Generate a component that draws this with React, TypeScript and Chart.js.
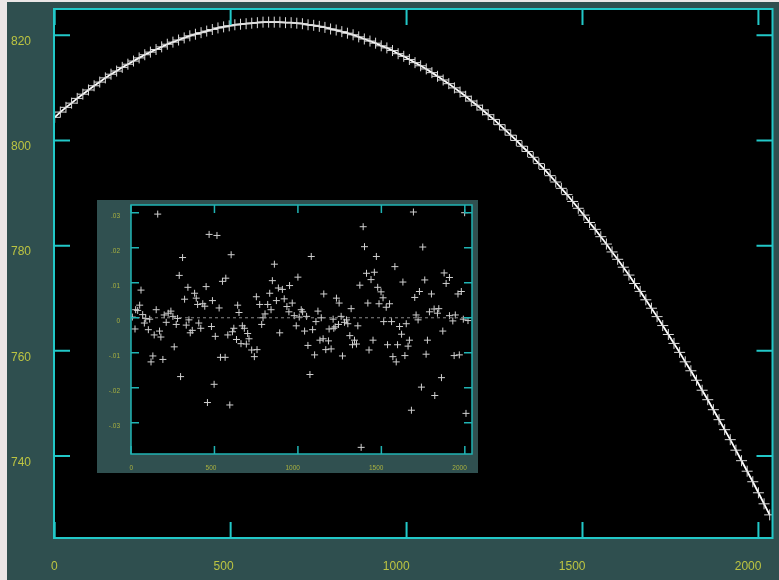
import React, { useEffect, useRef } from "react";
import { Chart, registerables } from "chart.js";

Chart.register(...registerables);

// Main curve: sampled pixel positions along the detector and measured values
const MAIN_X = [
  0, 16, 32, 48, 64, 80, 96, 112, 128, 144, 160, 176, 192, 208, 224, 240,
  256, 272, 288, 304, 320, 336, 352, 368, 384, 400, 416, 432, 448, 464, 480, 496,
  512, 528, 544, 560, 576, 592, 608, 624, 640, 656, 672, 688, 704, 720, 736, 752,
  768, 784, 800, 816, 832, 848, 864, 880, 896, 912, 928, 944, 960, 976, 992, 1008,
  1024, 1040, 1056, 1072, 1088, 1104, 1120, 1136, 1152, 1168, 1184, 1200, 1216, 1232, 1248, 1264,
  1280, 1296, 1312, 1328, 1344, 1360, 1376, 1392, 1408, 1424, 1440, 1456, 1472, 1488, 1504, 1520,
  1536, 1552, 1568, 1584, 1600, 1616, 1632, 1648, 1664, 1680, 1696, 1712, 1728, 1744, 1760, 1776,
  1792, 1808, 1824, 1840, 1856, 1872, 1888, 1904, 1920, 1936, 1952, 1968, 1984, 2000, 2016, 2032,
];
const MAIN_Y = [
  804.4, 805.4, 806.3, 807.1, 808.0, 808.8, 809.6, 810.4, 811.1, 811.9, 812.6, 813.2, 813.9, 814.5, 815.1, 815.7,
  816.3, 816.8, 817.3, 817.8, 818.3, 818.7, 819.1, 819.5, 819.9, 820.2, 820.5, 820.8, 821.1, 821.4, 821.6, 821.8,
  822.0, 822.1, 822.2, 822.3, 822.4, 822.5, 822.5, 822.5, 822.5, 822.4, 822.4, 822.3, 822.2, 822.0, 821.9, 821.7,
  821.5, 821.2, 821.0, 820.7, 820.4, 820.1, 819.7, 819.3, 818.9, 818.5, 818.0, 817.6, 817.1, 816.5, 816.0, 815.4,
  814.8, 814.2, 813.6, 812.9, 812.2, 811.5, 810.8, 810.0, 809.2, 808.4, 807.5, 806.7, 805.8, 804.9, 804.0, 803.0,
  802.0, 801.0, 800.0, 798.9, 797.9, 796.8, 795.6, 794.5, 793.3, 792.1, 790.9, 789.7, 788.4, 787.1, 785.8, 784.4,
  783.1, 781.7, 780.3, 778.8, 777.4, 775.9, 774.4, 772.8, 771.3, 769.7, 768.1, 766.5, 764.8, 763.1, 761.4, 759.7,
  757.9, 756.2, 754.4, 752.5, 750.7, 748.8, 746.9, 745.0, 743.1, 741.1, 739.1, 737.1, 735.1, 733.0, 730.9, 728.8,
];

const MAIN_X_TICKS = [0, 500, 1000, 1500, 2000];
const MAIN_Y_TICKS = [740, 760, 780, 800, 820];

// Inset: residuals of the fit
const RES_X = [
  160, 468, 515, 309, 289, 341, 450, 60, 381, 391, 321, 488, 399, 430, 442, 52,
  28, 40, 151, 70, 8, 199, 223, 239, 251, 88, 112, 279, 347, 80, 211, 271,
  331, 406, 24, 104, 171, 367, 355, 418, 482, 139, 179, 505, 259, 131, 120, 191,
  297, 498, 458,
  600, 859, 1000, 847, 548, 568, 950, 883, 907, 831, 918, 751, 871, 966, 934, 639,
  771, 819, 528, 647, 839, 946, 803, 791, 978, 783, 990, 667, 679, 616, 608, 580,
  699, 891, 632, 707, 659, 691, 723, 755, 739, 536, 564, 592,
  1391, 1399, 1080, 1470, 1411, 1458, 1438, 1371, 1478, 1498, 1510, 1155, 1231, 1247, 1419, 1486,
  1319, 1020, 1028, 1120, 1052, 1140, 1211, 1259, 1291, 1008, 1108, 1279, 1299, 1514, 1243, 1223,
  1359, 1040, 1088, 1187, 1215, 1311, 1132, 1151, 1183, 1339, 1450, 1060, 1327, 1351, 1167, 1199,
  1426, 1100, 1267, 1072, 1379,
  1692, 1999, 1748, 1581, 1876, 1908, 1629, 1760, 1888, 1979, 1959, 1728, 1800, 1700, 1549, 1529,
  1816, 1844, 1788, 1836, 1708, 1908, 1943, 1991, 2019, 1720, 1561, 1649, 1609, 1928, 1868, 1621,
  1668, 1776, 1537, 1597, 1660, 1569, 1589, 1641, 1768, 1936, 1967, 1860, 1740, 1820, 1680, 2007,
];
const RES_Y = [
  0.0296, 0.0238, 0.0235, 0.0172, 0.0121, 0.0087, 0.0089, 0.0079, 0.0070, 0.0056, 0.0053, 0.0049, 0.0038, 0.0040, 0.0033, 0.0036,
  0.0023, 0.0021, 0.0023, 0.0009, 0.0002, 0.0008, 0.0013, 0.0019, 0.0004, -0.0002, -0.0004, -0.0002, -0.0006, -0.0015, -0.0013, -0.0019,
  -0.0021, -0.0015, -0.0032, -0.0034, -0.0038, -0.0036, -0.0043, -0.0030, -0.0025, -0.0049, -0.0055, -0.0053, -0.0083, -0.0109, -0.0126, -0.0119,
  -0.0168, -0.0190, -0.0242,
  0.0180, 0.0153, 0.0116, 0.0106, 0.0104, 0.0113, 0.0092, 0.0085, 0.0081, 0.0070, 0.0054, 0.0060, 0.0049, 0.0042, 0.0032, 0.0036,
  0.0038, 0.0038, 0.0028, 0.0015, 0.0023, 0.0017, 0.0011, 0.0000, 0.0006, -0.0019, -0.0023, -0.0023, -0.0030, -0.0030, -0.0040, -0.0049,
  -0.0045, -0.0043, -0.0062, -0.0060, -0.0074, -0.0075, -0.0092, -0.0091, -0.0111, -0.0113, -0.0113, -0.0249,
  0.0260, 0.0203, 0.0175, 0.0175, 0.0127, 0.0130, 0.0109, 0.0093, 0.0087, 0.0074, 0.0057, 0.0068, 0.0056, 0.0042, 0.0042, 0.0040,
  0.0026, 0.0023, 0.0017, 0.0019, 0.0004, 0.0000, -0.0004, 0.0004, -0.0006, 0.0002, -0.0011, -0.0013, -0.0017, -0.0011, -0.0019, -0.0026,
  -0.0023, -0.0038, -0.0034, -0.0032, -0.0030, -0.0051, -0.0064, -0.0060, -0.0066, -0.0064, -0.0064, -0.0079, -0.0077, -0.0075, -0.0091, -0.0089,
  -0.0092, -0.0106, -0.0109, -0.0162, -0.0370,
  0.0302, 0.0300, 0.0202, 0.0146, 0.0128, 0.0115, 0.0102, 0.0108, 0.0098, 0.0075, 0.0068, 0.0075, 0.0068, 0.0058, 0.0040, 0.0030,
  0.0025, 0.0026, 0.0017, 0.0013, 0.0008, 0.0006, 0.0008, -0.0004, -0.0008, -0.0006, -0.0011, -0.0017, -0.0025, -0.0009, -0.0038, -0.0047,
  -0.0064, -0.0064, -0.0077, -0.0077, -0.0081, -0.0111, -0.0126, -0.0108, -0.0104, -0.0108, -0.0106, -0.0171, -0.0198, -0.0222, -0.0264, -0.0273,
];

const INSET_X_TICKS = [0, 500, 1000, 1500, 2000];
const INSET_Y_TICKS = [-0.03, -0.02, -0.01, 0, 0.01, 0.02, 0.03];
const INSET_Y_LABELS = ["-.03", "-.02", "-.01", "0", ".01", ".02", ".03"];

const ZERO_LINE_X = [0, 2043];
const ZERO_LINE_Y = [0, 0];

const SLATE = "#2f4f4f";
const CYAN = "#22c8c8";
const LABEL = "#bcc442";
const FONT = '"Liberation Sans", Arial, Helvetica, sans-serif';

function setTicks(values: number[]) {
  return (s: any) => {
    s.ticks = values.map((v) => ({ value: v }));
  };
}

function framePlugin(bg: string, color: string, lw: number, len: number) {
  return {
    id: "frameTicks",
    beforeDraw(chart: any) {
      const { ctx, width, height, chartArea: a } = chart;
      ctx.save();
      ctx.fillStyle = bg;
      ctx.fillRect(0, 0, width, height);
      ctx.fillStyle = "#000000";
      ctx.fillRect(a.left, a.top, a.right - a.left, a.bottom - a.top);
      ctx.restore();
    },
    afterDatasetsDraw(chart: any) {
      const { ctx, chartArea: a, scales } = chart;
      ctx.save();
      ctx.strokeStyle = color;
      ctx.lineWidth = lw;
      ctx.beginPath();
      scales.x.ticks.forEach((t: any) => {
        const px = scales.x.getPixelForValue(t.value);
        ctx.moveTo(px, a.bottom);
        ctx.lineTo(px, a.bottom - len);
        ctx.moveTo(px, a.top);
        ctx.lineTo(px, a.top + len);
      });
      scales.y.ticks.forEach((t: any) => {
        const py = scales.y.getPixelForValue(t.value);
        ctx.moveTo(a.left, py);
        ctx.lineTo(a.left + len, py);
        ctx.moveTo(a.right, py);
        ctx.lineTo(a.right - len, py);
      });
      ctx.stroke();
      ctx.strokeRect(a.left, a.top, a.right - a.left, a.bottom - a.top);
      ctx.restore();
    },
  };
}

export default function App() {
  const mainRef = useRef<HTMLCanvasElement>(null);
  const insetRef = useRef<HTMLCanvasElement>(null);

  useEffect(() => {
    const mainData = MAIN_X.map((x, i) => ({ x, y: MAIN_Y[i] }));
    const resData = RES_X.map((x, i) => ({ x, y: RES_Y[i] }));
    const zeroData = ZERO_LINE_X.map((x, i) => ({ x, y: ZERO_LINE_Y[i] }));

    const main = new Chart(mainRef.current!, {
      type: "scatter",
      data: {
        datasets: [
          {
            data: mainData,
            showLine: true,
            borderColor: "#ffffff",
            borderWidth: 1.8,
            pointStyle: "cross",
            pointRadius: 5.5,
            pointBorderColor: "#dcdcdc",
            pointBorderWidth: 1,
          } as any,
        ],
      },
      options: {
        animation: false,
        responsive: false,
        layout: { padding: { top: 7, right: 5, left: 0, bottom: 0 } },
        plugins: { legend: { display: false }, tooltip: { enabled: false } },
        scales: {
          x: {
            type: "linear",
            min: -2,
            max: 2040,
            grid: { display: false, drawTicks: false },
            border: { display: false },
            afterBuildTicks: setTicks(MAIN_X_TICKS),
            ticks: {
              align: "end",
              labelOffset: 3,
              padding: 21,
              maxRotation: 0,
              autoSkip: false,
              color: LABEL,
              font: { family: FONT, size: 12 },
              callback: (v: any) => String(v),
            },
            afterFit: (s: any) => {
              s.height = 42;
              s.paddingLeft = 0;
              s.paddingRight = 0;
            },
          },
          y: {
            type: "linear",
            min: 724.4,
            max: 825,
            grid: { display: false, drawTicks: false },
            border: { display: false },
            afterBuildTicks: setTicks(MAIN_Y_TICKS),
            ticks: {
              padding: 23,
              labelOffset: 6.5,
              autoSkip: false,
              color: LABEL,
              font: { family: FONT, size: 12 },
              callback: (v: any) => String(v),
            },
            afterFit: (s: any) => {
              s.width = 47;
              s.paddingTop = 0;
              s.paddingBottom = 0;
            },
          },
        },
      },
      plugins: [framePlugin(SLATE, CYAN, 2, 16)],
    } as any);

    const inset = new Chart(insetRef.current!, {
      type: "scatter",
      data: {
        datasets: [
          {
            data: zeroData,
            showLine: true,
            borderColor: "#8a8a8a",
            borderWidth: 1,
            borderDash: [3, 3],
            pointRadius: 0,
          } as any,
          {
            data: resData,
            pointStyle: "cross",
            pointRadius: 3.5,
            pointBorderColor: "#d0d0d0",
            pointBorderWidth: 1,
          } as any,
        ],
      },
      options: {
        animation: false,
        responsive: false,
        layout: { padding: { top: 3, right: 6, left: 0, bottom: 0 } },
        plugins: { legend: { display: false }, tooltip: { enabled: false } },
        scales: {
          x: {
            type: "linear",
            min: 0,
            max: 2043,
            grid: { display: false, drawTicks: false },
            border: { display: false },
            afterBuildTicks: setTicks(INSET_X_TICKS),
            ticks: {
              align: "end",
              labelOffset: 2,
              padding: 10,
              maxRotation: 0,
              autoSkip: false,
              color: "#a8b040",
              font: { family: FONT, size: 6.5 },
              callback: (v: any) => String(v),
            },
            afterFit: (s: any) => {
              s.height = 19;
              s.paddingLeft = 0;
              s.paddingRight = 0;
            },
          },
          y: {
            type: "linear",
            min: -0.0389,
            max: 0.0322,
            grid: { display: false, drawTicks: false },
            border: { display: false },
            afterBuildTicks: setTicks(INSET_Y_TICKS),
            ticks: {
              padding: 11,
              labelOffset: 3.5,
              autoSkip: false,
              color: "#a8b040",
              font: { family: FONT, size: 6.5 },
              callback: (v: any, i: number) => INSET_Y_LABELS[i],
            },
            afterFit: (s: any) => {
              s.width = 34;
              s.paddingTop = 0;
              s.paddingBottom = 0;
            },
          },
        },
      },
      plugins: [framePlugin("#305050", "#20b4b4", 1.5, 8)],
    } as any);

    return () => {
      main.destroy();
      inset.destroy();
    };
  }, []);

  return (
    <div
      style={{
        position: "fixed",
        left: 0,
        top: 0,
        width: 779,
        height: 580,
        background: "#ebe6e6",
        overflow: "hidden",
      }}
    >
      <canvas
        ref={mainRef}
        width={772}
        height={578}
        style={{ position: "absolute", left: 7, top: 2, width: 772, height: 578 }}
      />
      <canvas
        ref={insetRef}
        width={381}
        height={273}
        style={{ position: "absolute", left: 97, top: 200, width: 381, height: 273 }}
      />
    </div>
  );
}
